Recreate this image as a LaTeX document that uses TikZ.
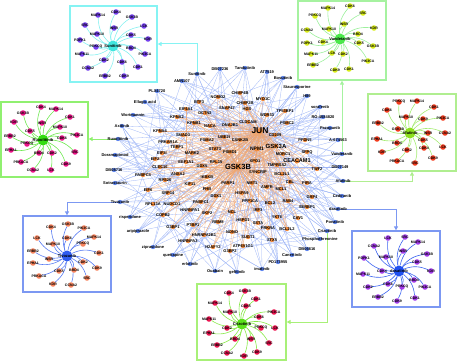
\documentclass[tikz,border=0pt]{standalone}
\usepackage{fontspec}
\setmainfont{Liberation Sans}
\usetikzlibrary{arrows.meta}
\pgfdeclarelayer{bg}
\pgfsetlayers{bg,main}
\definecolor{drugc}{HTML}{5F86F0}
\definecolor{protc}{HTML}{F08A3C}
\definecolor{bedgec}{HTML}{9FB6F6}
\definecolor{oedgec}{HTML}{F2A56C}
\definecolor{cyB}{HTML}{86F3F3}\definecolor{cyN}{HTML}{7440EE}\definecolor{cyE}{HTML}{86F0F0}\definecolor{cyC}{HTML}{40E6DE}
\definecolor{trB}{HTML}{A6F2A0}\definecolor{trN}{HTML}{D8EC1A}\definecolor{trE}{HTML}{9CF09C}\definecolor{trC}{HTML}{4BE84B}
\definecolor{rmB}{HTML}{B0EE90}\definecolor{rmN}{HTML}{F23C1E}\definecolor{rmE}{HTML}{A6EC74}\definecolor{rmC}{HTML}{8CE01E}
\definecolor{lmB}{HTML}{90F070}\definecolor{lmN}{HTML}{EC1488}\definecolor{lmE}{HTML}{6EE850}\definecolor{lmC}{HTML}{33DD11}
\definecolor{blB}{HTML}{7C98F2}\definecolor{blN}{HTML}{F7845E}\definecolor{blE}{HTML}{5A7CF2}\definecolor{blC}{HTML}{2F5CF0}
\definecolor{bcB}{HTML}{A8F078}\definecolor{bcN}{HTML}{EC1450}\definecolor{bcE}{HTML}{88E848}\definecolor{bcC}{HTML}{5CE01C}
\definecolor{brB}{HTML}{7C98F2}\definecolor{brN}{HTML}{A43CEA}\definecolor{brE}{HTML}{3C64F0}\definecolor{brC}{HTML}{2050F0}
\newcommand\myinset[7]{%
  \node[cnode, fill=#6, label={[ilabc]center:#3}] (#1c) at (#2) {};
  \foreach \x/\y/\lbl [count=\i] in {#7} {
    \node[inode, fill=#4, label={[ilab]center:\lbl}] (#1\i) at (\x,\y) {};
    \begin{pgfonlayer}{bg}\draw[draw=#5, line width=0.6pt] (#1c) to[bend left=22] (#1\i);\end{pgfonlayer}
  }}
\begin{document}
\begin{tikzpicture}[x=1pt,y=-1pt,
  lab/.style={font=\fontsize{4}{4}\selectfont\bfseries, inner sep=0pt, text=black},
  ilab/.style={font=\fontsize{3.5}{3.5}\selectfont\bfseries, inner sep=0pt, text=black},
  ilabc/.style={font=\fontsize{4}{4}\selectfont\bfseries, inner sep=0pt, text=black},
  dnode/.style={circle, fill=drugc, inner sep=0pt, minimum size=4.4pt},
  pnode/.style={circle, fill=protc, inner sep=0pt, minimum size=4.4pt},
  inode/.style={circle, inner sep=0pt, minimum size=5.6pt},
  cnode/.style={circle, inner sep=0pt, minimum size=11pt},
  bedge/.style={draw=bedgec, line width=0.3pt},
  oedge/.style={draw=oedgec, line width=0.3pt, draw opacity=0.75},
  ibox/.style={draw, line width=1.3pt, inner sep=0pt},
  iarrow/.style={line width=1pt, -{Triangle[length=4pt,width=4pt]}},
]
\useasboundingbox (0,0) rectangle (457,361);
% ---------- inset boxes ----------
\node[ibox, draw=cyB, minimum width=87pt, minimum height=76pt] (cybox) at (113.5,44) {};
\node[ibox, draw=trB, minimum width=88pt, minimum height=79pt] (trbox) at (342,40.5) {};
\node[ibox, draw=rmB, minimum width=88pt, minimum height=77pt] (rmbox) at (412,132.5) {};
\node[ibox, draw=lmB, minimum width=87pt, minimum height=75pt] (lmbox) at (44.5,139.5) {};
\node[ibox, draw=blB, minimum width=88pt, minimum height=76pt] (blbox) at (67,254) {};
\node[ibox, draw=bcB, minimum width=89pt, minimum height=76pt] (bcbox) at (241.5,322) {};
\node[ibox, draw=brB, minimum width=88pt, minimum height=76pt] (brbox) at (396,269) {};
% ---------- insets ----------
\myinset{cy}{113,46}{Sunitinib}{cyN}{cyE}{cyC}{98/15/MAPK14, 116/12/CDK4, 132/17/GSK3B, 144/26/LCK, 114/28/INSR, 85/25/SRC, 97/34/MAPK10, 131/35/CDK5, 148/39/KDR, 80/40/PDPK1, 96/47/PRKCQ, 131/48/BRD4, 145/54/PIK3CA, 82/54/MAPK11, 104/60/CDK2, 122/62/CDK6, 88/68/CCNA2, 138/67/CDK1, 105/76/ERBB2, 124/76/CDK9}
\myinset{tr}{340,39}{Vandetanib}{trN}{trE}{trC}{328/8/MAPK14, 350/6/CDK6, 363/13/SRC, 315/16/PRKCQ, 344/24/INSR, 374/28/KDR, 307/30/CCNA2, 329/29/MAPK10, 358/34/BRD4, 307/43/PDPK1, 323/42/CDK4, 359/43/CDK5, 373/46/GSK3B, 311/54/MAPK11, 332/53/LCK, 343/54/CDK2, 368/61/PIK3CA, 313/65/ERBB2, 335/70/CDK9, 349/69/CDK1}
\myinset{rm}{410,133}{Afatinib}{rmN}{rmE}{rmC}{399/102/PRKCQ, 417/101/MAPK14, 434/107/CDK1, 387/110/CDK6, 406/117/MAPK10, 423/119/CDK9, 443/118/PIK3CA, 378/123/ERBB2, 398/129/GSK3B, 428/133/INSR, 445/133/CCNA2, 377/139/EPHA1, 397/143/BRD4, 423/140/CDK5, 443/147/LCK, 382/152/KDR, 407/150/CDK2, 424/148/CDK4, 397/161/PRKACA, 415/163/SRC, 433/158/CDK9}
\myinset{lm}{43,140}{Ruxolitinib}{lmN}{lmE}{lmC}{23/113/GSK3B, 41/107/CDK4, 56/109/MAPK14, 70/117/CDK1, 14/122/KDR, 42/123/INSR, 60/127/MAPK10, 30/131/CDK5, 10/136/ERBB2, 27/144/PRKCQ, 77/135/PIK3CA, 62/138/CDK6, 11/150/EPHA1, 39/153/BRD4, 52/153/CDK2, 75/152/SRC, 21/162/PRKACA, 66/164/CDK9, 33/170/CCNA2, 51/170/LCK}
\myinset{bl}{67,256}{Tivozanib}{blN}{blE}{blC}{51/227/CDK4, 68/224/GSK3B, 84/228/PIK3CA, 37/238/LCK, 67/238/CDK6, 94/237/MAPK14, 53/244/MAPK10, 83/244/PRKCQ, 33/251/ERBB2, 99/253/CDK1, 49/259/INSR, 83/262/CDK2, 33/263/EPHA1, 97/268/CDK9, 59/271/CDK5, 74/270/BRD4, 39/276/PRKACA, 53/284/KDR, 71/285/CCNA2, 87/278/SRC}
\myinset{bc}{242,324}{Crizotinib}{bcN}{bcE}{bcC}{229/293/CDK4, 245/291/GSK3B, 256/299/CDK1, 215/303/MAPK14, 246/306/CDK5, 230/312/MAPK10, 274/312/PIK3CA, 259/317/CDK6, 209/319/MAPK11, 227/328/CDK2, 261/328/PRKCQ, 275/328/LCK, 209/333/EPHA1, 235/339/BRD4, 251/339/INSR, 269/343/SRC, 217/345/ERBB2, 227/353/CCNA2, 244/356/KDR, 257/352/CDK9}
\myinset{br}{399,271}{dasatinib}{brN}{brE}{brC}{388/238/LCK, 405/237/SRC, 418/242/MAPK14, 374/246/CCNA2, 403/251/INSR, 427/254/GSK3B, 386/257/MAPK10, 364/258/PDPK1, 417/262/CDK5, 431/271/KDR, 363/274/MAPK11, 382/271/CDK4, 388/284/CDK6, 414/280/BRD4, 368/287/CDK2, 402/287/PRKCQ, 425/287/PIK3CA, 378/297/ERBB2, 397/301/CDK9, 415/298/CDK1}
% ---------- main network: proteins ----------
\node[pnode, minimum size=6pt, label={[lab, font=\fontsize{8.5}{8.5}\selectfont\bfseries]center:JUN}] (jun) at (260,131) {};
\node[pnode, minimum size=6pt, label={[lab, font=\fontsize{7.5}{7.5}\selectfont\bfseries]center:GSK3B}] (gsk3b) at (238,167) {};
\node[pnode, minimum size=5pt, label={[lab, font=\fontsize{6}{6}\selectfont\bfseries]center:GSK3A}] (gsk3a) at (276,146) {};
\node[pnode, minimum size=5pt, label={[lab, font=\fontsize{5}{5}\selectfont\bfseries]center:NPM1}] (npm1) at (257,149) {};
\node[pnode, minimum size=5pt, label={[lab, font=\fontsize{5.5}{5.5}\selectfont\bfseries]center:CEACAM1}] (ceac) at (297,161) {};
\foreach \x/\y/\lbl [count=\i] in {199/102/BTF3, 218/97/NOMO2, 240/93/CHMP4B, 245/103/CHMP2B, 263/99/MYO1C, 227/108/SNAP47, 247/109/HGS, 205/113/DCTN2, 186/109/EIF4A1, 177/117/KPNA2,
 267/115/WDR33, 285/111/TP53BP1, 194/123/KPNB1, 210/126/NACA, 230/125/DNAJB1, 248/122/CLDCAM, 287/123/PSMC2, 160/131/KPNA4, 183/135/SMAD3, 207/140/PSMA2,
 224/137/UBE2I, 240/140/CSNK2B, 275/135/CD209, 305/140/PFDN5, 168/142/PRKAR1A, 177/147/TERF1, 215/149/STAT3, 230/152/PSMD1, 283/154/MORC1, 162/153/EIF3I,
 155/159/EIF2, 192/153/MARK2, 307/152/SFPQ, 186/162/EEF1A1, 216/162/RPL15, 255/161/XPO1, 277/165/TMPRSS2, 160/167/CLEC16, 202/166/DDX5, 317/169/TWF2,
 258/172/SYNCRIP, 282/174/BCL2L1, 143/175/PABPC4, 178/174/ANXA2, 165/180/RPS26, 207/177/IKBKB, 228/183/PARP1, 252/183/NMT1, 290/182/CBL, 307/183/PIRA,
 190/184/KIF11, 207/189/PHB, 267/187/AMFR, 281/189/MCL1, 168/193/SRP14, 216/196/DDX1, 242/193/HSPA9, 312/197/GRP4, 250/201/PPP1CA, 270/203/BCL2,
 288/201/RAB4, 307/207/SERBP1, 153/204/RPL13A, 172/204/NUDCD1, 201/202/PABPC1, 190/210/HNRNPA1, 207/213/SKP2, 232/212/NCL, 258/210/IRF3, 243/220/HSPD1,
 277/217/YKT6, 298/218/CAV1, 163/215/COPB2, 173/227/G3BP1, 193/225/PTBP1, 218/222/RBM8, 258/223/SSTA, 268/228/PRKRA, 287/229/BCL2L2, 204/235/HNRNPA2B1,
 232/232/NONO, 188/241/HNRNPA3, 248/237/SUGT1, 272/240/STX5, 213/247/H2AFY2, 243/246/ATP6V1G1, 230/251/G3BP2, 148/190/EIF6}
 {\node[pnode, label={[lab]center:\lbl}] (p\i) at (\x,\y) {};}
% ---------- main network: drugs ----------
\foreach \n/\x/\y/\lbl in {sun/197/74/Sunitinib, dbA/220/69/DB07236, tand/245/68/Tandutinib, at75/267/72/AT7519, bosu/283/78/Bosutinib, stau/297/87/Staurosporine, amn/182/81/AMN107, plx/157/91/PLX4720, ella/145/102/Ellagic acid, wort/133/115/Wortmannin,
 axit/122/126/Axitinib, rux/118/139/Ruxolitinib, dora/115/155/Doramapimod, dbB/114/170/DB08716, sotr/115/183/Sotrastaurin, tivo/120/202/Tivozanib, risp/130/217/risperidone, arip/138/231/aripiprazole, zipr/153/247/ziprasidone, quet/173/255/quetiapine,
 erlo/190/264/erlotinib, ouab/215/271/Ouabain, gefi/237/272/gefitinib, imat/262/269/imatinib, pdA/278/262/PD173955, cane/292/255/Canertinib, dbC/307/249/DB06616, phos/320/239/Phosphothreonine, criz/327/231/Crizotinib, pona/335/222/Ponatinib,
 dasa/338/209/dasatinib, cedi/342/196/Cediranib, afat/343/181/Afatinib, dbD/340/167/DB07149, vand/342/154/Vandetanib, a674/338/140/A-674563, pazo/330/128/Pazopanib, ro45/323/117/RO-4584820, sora/320/107/sorafenib, h89/307/96/H89}
 {\node[dnode, label={[lab]center:\lbl}] (\n) at (\x,\y) {};}
% ---------- edges ----------
\begin{pgfonlayer}{bg}
\pgfmathsetseed{4242}
\foreach \n in {sun,dbA,tand,at75,bosu,stau,amn,plx,ella,wort,axit,rux,dora,dbB,sotr,tivo,risp,arip,zipr,quet,erlo,ouab,gefi,imat,pdA,cane,dbC,phos,criz,pona,dasa,cedi,afat,dbD,vand,a674,pazo,ro45,sora,h89}
 {\draw[bedge] (\n) -- (gsk3b); \draw[bedge] (\n) -- (jun);
  \foreach \k in {1,...,4} {\pgfmathrandominteger{\r}{1}{88}\draw[bedge] (\n) -- (p\r);}}
\foreach \i in {1,...,88} {\draw[oedge] (jun) -- (p\i); \draw[oedge] (gsk3b) -- (p\i);}
\foreach \i in {1,4,...,88} {\draw[oedge] (gsk3a) -- (p\i);}
\foreach \i in {2,9,...,86} {\draw[oedge] (npm1) -- (p\i);}
\draw[oedge] (jun) -- (gsk3b) (jun) -- (gsk3a) (gsk3a) -- (gsk3b) (npm1) -- (gsk3b) (ceac) -- (gsk3b) (ceac) -- (jun);
\foreach \k in {1,...,40} {\pgfmathrandominteger{\a}{1}{88}\pgfmathrandominteger{\b}{1}{88}\ifnum\a=\b\else\draw[oedge] (p\a) -- (p\b);\fi}
% arrows to insets
\draw[iarrow, draw=cyB] (sun) |- (cybox.east);
\draw[iarrow, draw=trB] (vand) -- (vand |- trbox.south);
\draw[iarrow, draw=rmB] (afat) -| (rmbox.south);
\draw[iarrow, draw=lmB] (rux) -- (rux -| lmbox.east);
\draw[iarrow, draw=blB] (tivo) -| (blbox.north);
\draw[iarrow, draw=bcB] (criz) |- (bcbox.east);
\draw[iarrow, draw=brB] (dasa) -| (brbox.north);
\end{pgfonlayer}
\end{tikzpicture}
\end{document}
